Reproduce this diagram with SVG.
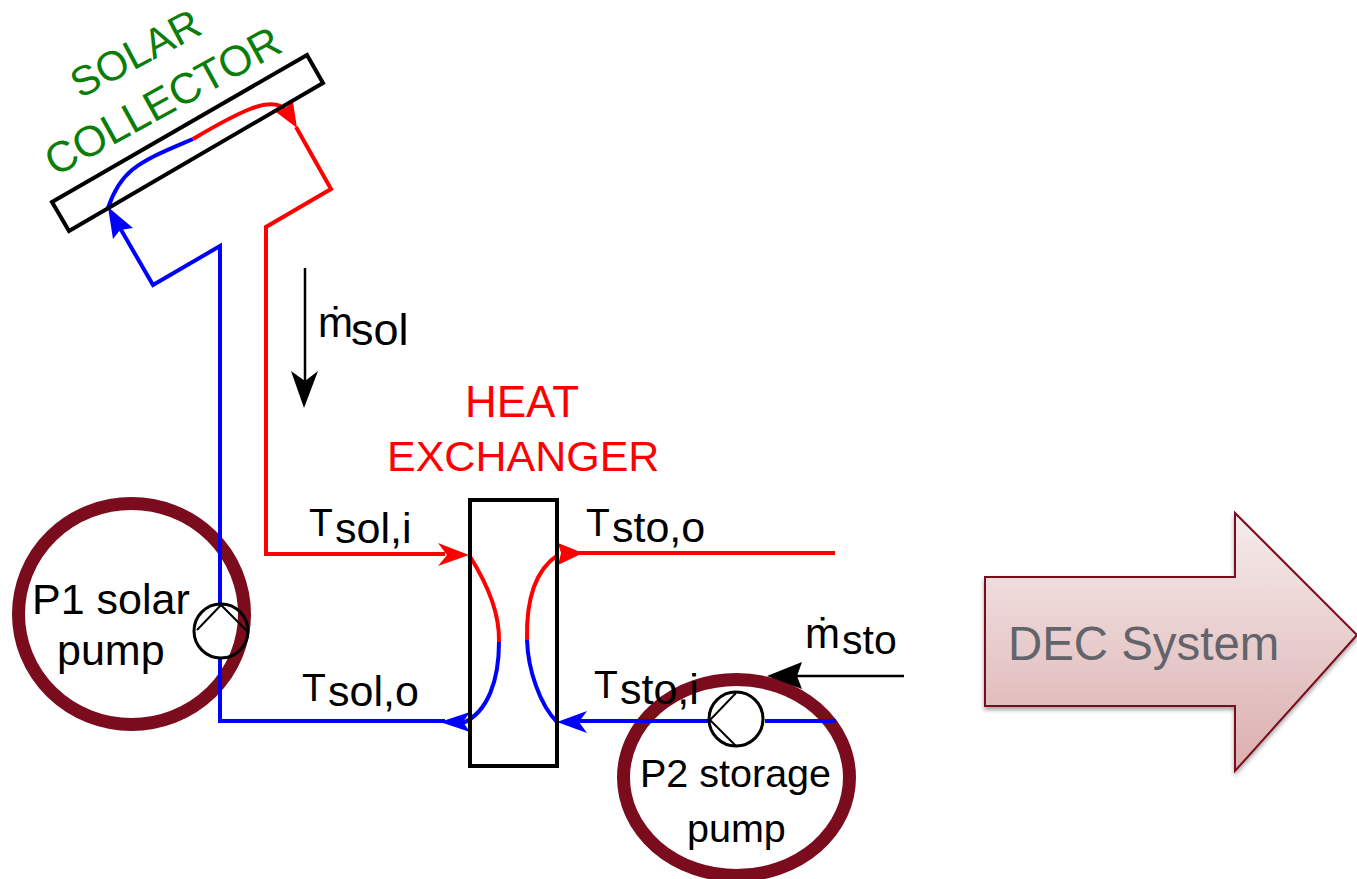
<svg xmlns="http://www.w3.org/2000/svg" width="1357" height="879" viewBox="0 0 1357 879">
<style>
text{font-family:"Liberation Sans",Arial,sans-serif}
.t{font-size:43px;fill:#000}
.sym{font-size:39px}
.p2{font-size:39.500px;fill:#000}
.m{font-size:42px}
.green{font-size:43px;fill:#0a7d0a}
.red{font-size:43px;fill:#f00}
.ring{fill:none;stroke:#7a0c1e;stroke-width:13}
.box{fill:none;stroke:#000;stroke-width:4}
.pump{fill:none;stroke:#000;stroke-width:3}
.pm{fill:none;stroke:#000;stroke-width:2}
.b{fill:none;stroke:#00f;stroke-width:4;stroke-linejoin:miter}
.r{fill:none;stroke:#f00;stroke-width:4;stroke-linejoin:miter}
.k{fill:none;stroke:#000;stroke-width:2.5}
.hb{fill:#00f}.hr{fill:#f00}.hk{fill:#000}
</style>
<defs>
<linearGradient id="g" x1="0" y1="0" x2="0" y2="1"><stop offset="0" stop-color="#f6ecec"/><stop offset="1" stop-color="#dbaeae"/></linearGradient>
<filter id="s" x="-5%" y="-5%" width="110%" height="115%"><feDropShadow dx="0" dy="3" stdDeviation="2" flood-color="#000" flood-opacity=".35"/></filter>
</defs>
<rect width="1357" height="879" fill="#fff"/>
<g id="p1-ring"><ellipse class="ring" cx="131.500" cy="614" rx="113" ry="110.500"/></g>
<g id="p2-ring"><ellipse class="ring" cx="736.500" cy="777.500" rx="113" ry="98"/></g>
<g id="connectors">
<path class="b" d="M193 139C165 151 147 158 132 170C120 180 113 193 108 208"/>
<path class="r" d="M193 139C215 126 230 117 250 109C265 103 280 102 285 110"/>
<path class="b" d="M120 228L153 285L220 246V605M220 658V721H445"/>
<path class="r" d="M296 127L331 189L266 227V554H445"/>
<path class="r" d="M469 555C485 580 500 610 499 642"/>
<path class="b" d="M499 642C499 680 488 712 463 723"/>
<path class="r" d="M558 555C535 570 526 600 527 640"/>
<path class="b" d="M527 640C528 670 540 705 557 722"/>
<path class="r" d="M565 553H835"/>
<path class="b" d="M575 721H708M765 721H836"/>
<path class="k" d="M305 268V385M904 676H795"/>
<polygon class="hb" points="108,207 133,228 120,230 113,239"/>
<polygon class="hr" points="297,128 276,112 285,108 293,102"/>
<polygon class="hr" points="469,555 438,566 447,555 438,543"/>
<polygon class="hr" points="583,553 558,565 561,553 558,543"/>
<polygon class="hb" points="440,722 470,712 463,722 470,732"/>
<polygon class="hb" points="557,722 587,711 579,722 587,733"/>
<polygon class="hk" points="304,408 291,371 305,381 318,371"/>
<polygon class="hk" points="767,676 802,662 797,676 802,689"/>
</g>
<g id="solar-collector">
<polygon class="box" points="52,202 307,55 323,83 69,231"/>
<text class="green" font-size="41.500" style="font-size:41.500px" transform="translate(80 99) rotate(-28)">SOLAR</text>
<text class="green" transform="translate(55 177) rotate(-28.8)">COLLECTOR</text>
</g>
<g id="heat-exchanger">
<rect class="box" x="470" y="500" width="87" height="266"/>
<text class="red" x="465" y="417" style="font-size:44px">HEAT</text>
<text class="red" x="387" y="471">EXCHANGER</text>
</g>
<g id="p1-pump">
<circle class="pump" cx="221" cy="631" r="27"/>
<path class="pm" d="M197 630L221 605L248 632"/>
<text class="t" x="32" y="614">P1 solar</text>
<text class="t" x="57" y="665">pump</text>
</g>
<g id="p2-pump">
<circle class="pump" cx="736" cy="719" r="27"/>
<path class="pm" d="M736 693L710 720L736 746"/>
<text class="p2" x="640" y="787">P2 storage</text>
<text class="p2" x="687" y="842">pump</text>
</g>
<g id="labels">
<text class="t"><tspan class="sym" x="309" y="536">T</tspan><tspan x="335" y="543">sol,i</tspan></text>
<text class="t"><tspan class="sym" x="586" y="536">T</tspan><tspan x="612" y="542">sto,o</tspan></text>
<text class="t"><tspan class="sym" x="302" y="701">T</tspan><tspan x="328" y="706">sol,o</tspan></text>
<text class="t"><tspan class="sym" x="594" y="698">T</tspan><tspan x="620" y="704">sto,i</tspan></text>
<text class="t"><tspan class="m" x="318" y="337">ṁ</tspan><tspan x="351" y="345" style="font-size:45px">sol</tspan></text>
<text class="t"><tspan class="m" x="805" y="648">ṁ</tspan><tspan x="842" y="654" style="font-size:41px">sto</tspan></text>
</g>
<g id="dec-system">
<polygon filter="url(#s)" fill="url(#g)" stroke="#7a0c1e" stroke-width="2" points="985,577 1235,577 1235,513 1357,635 1235,771 1235,706 985,706"/>
<text x="1008" y="660" font-size="47.400" fill="#63636b">DEC System</text>
</g>
</svg>
